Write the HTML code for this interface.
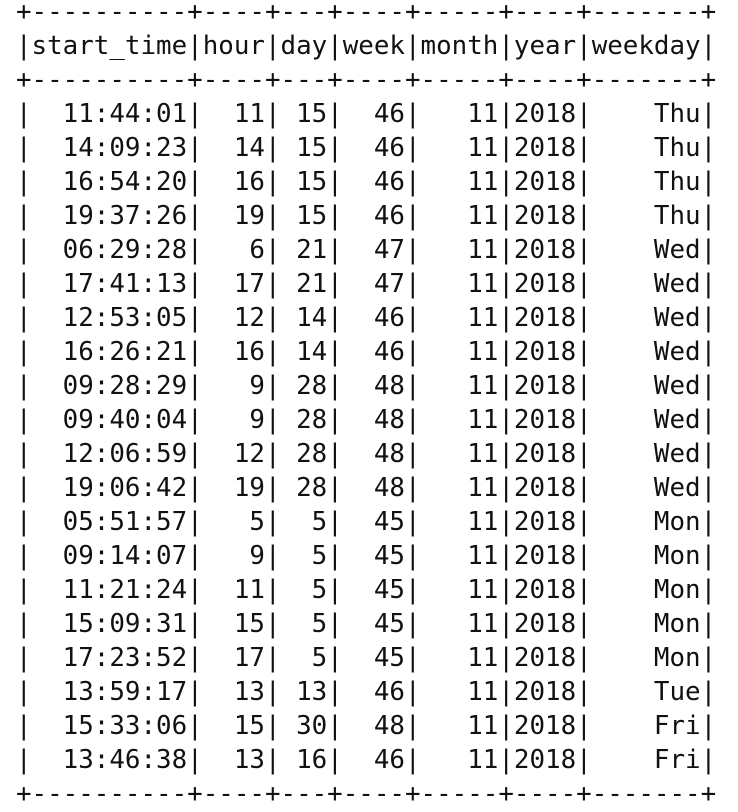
<!DOCTYPE html>
<html><head><meta charset="utf-8"><style>
html,body{margin:0;padding:0;background:#fff;width:738px;height:812px;overflow:hidden}
pre{position:absolute;left:16px;top:-5px;margin:0;font-family:"DejaVu Sans Mono","Liberation Mono",monospace;font-size:25.85px;line-height:34px;color:#111}
</style></head><body>
<pre>+----------+----+---+----+-----+----+-------+
|start_time|hour|day|week|month|year|weekday|
+----------+----+---+----+-----+----+-------+
|  11:44:01|  11| 15|  46|   11|2018|    Thu|
|  14:09:23|  14| 15|  46|   11|2018|    Thu|
|  16:54:20|  16| 15|  46|   11|2018|    Thu|
|  19:37:26|  19| 15|  46|   11|2018|    Thu|
|  06:29:28|   6| 21|  47|   11|2018|    Wed|
|  17:41:13|  17| 21|  47|   11|2018|    Wed|
|  12:53:05|  12| 14|  46|   11|2018|    Wed|
|  16:26:21|  16| 14|  46|   11|2018|    Wed|
|  09:28:29|   9| 28|  48|   11|2018|    Wed|
|  09:40:04|   9| 28|  48|   11|2018|    Wed|
|  12:06:59|  12| 28|  48|   11|2018|    Wed|
|  19:06:42|  19| 28|  48|   11|2018|    Wed|
|  05:51:57|   5|  5|  45|   11|2018|    Mon|
|  09:14:07|   9|  5|  45|   11|2018|    Mon|
|  11:21:24|  11|  5|  45|   11|2018|    Mon|
|  15:09:31|  15|  5|  45|   11|2018|    Mon|
|  17:23:52|  17|  5|  45|   11|2018|    Mon|
|  13:59:17|  13| 13|  46|   11|2018|    Tue|
|  15:33:06|  15| 30|  48|   11|2018|    Fri|
|  13:46:38|  13| 16|  46|   11|2018|    Fri|
+----------+----+---+----+-----+----+-------+</pre>
</body></html>
